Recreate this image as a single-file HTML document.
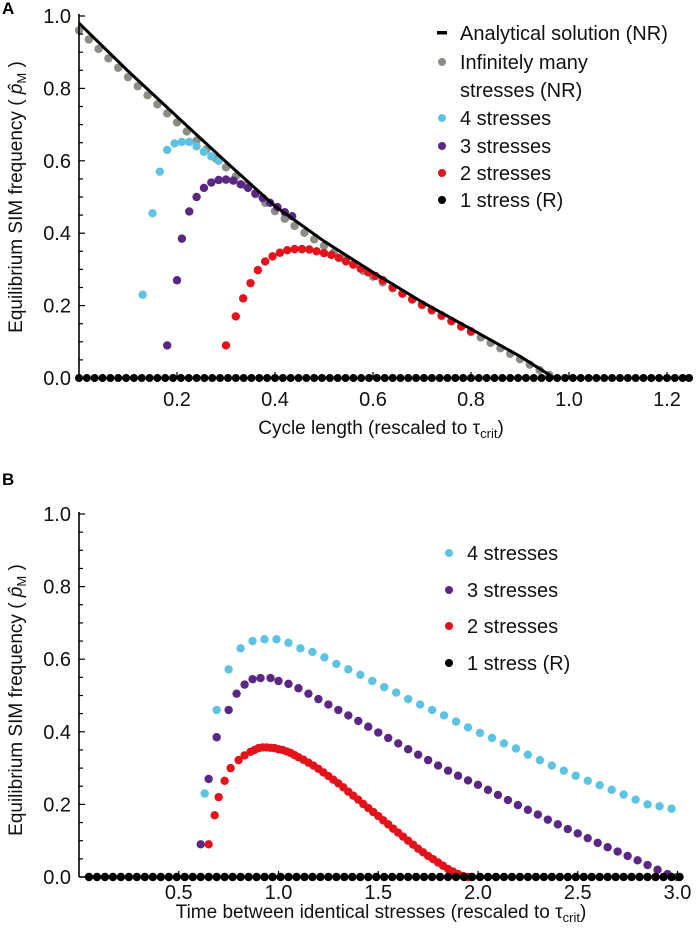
<!DOCTYPE html>
<html><head><meta charset="utf-8"><style>
html,body{margin:0;padding:0;background:#fff;}
svg{display:block;font-family:"Liberation Sans",sans-serif;}
</style></head><body>
<svg id="fig" width="700" height="931" viewBox="0 0 700 931">
<text x="2" y="14" font-size="17" font-weight="bold">A</text>
<text x="2" y="485" font-size="17" font-weight="bold">B</text>
<g id="gA"></g>
<g id="gB"></g>
</svg>
<script>
// ---------- Panel A data ----------
const aLineX = [0,0.1,0.2,0.3,0.4,0.5,0.6,0.7,0.8,0.9,0.97];
const aLineY = [0.98,0.848,0.722,0.597,0.475,0.378,0.292,0.21,0.135,0.06,0];
const aGreyX = [0,0.02,0.04,0.06,0.08,0.10,0.12,0.14,0.16,0.18,0.20,0.22,0.24,0.26,0.28,0.30,0.32,0.34,0.36,0.38,0.40,0.42,0.44,0.46,0.48,0.50,0.52,0.54,0.56,0.58,0.60,0.62,0.64,0.66,0.68,0.70,0.72,0.74,0.76,0.78,0.80,0.82,0.84,0.86,0.88,0.90,0.92,0.94,0.96];
const aGreyY = [0.96,0.935,0.909,0.883,0.857,0.831,0.806,0.781,0.756,0.731,0.706,0.681,0.656,0.631,0.606,0.582,0.557,0.532,0.508,0.484,0.461,0.44,0.42,0.401,0.383,0.365,0.347,0.33,0.313,0.296,0.28,0.264,0.248,0.232,0.216,0.201,0.186,0.171,0.156,0.141,0.127,0.112,0.097,0.082,0.067,0.052,0.037,0.022,0.008];
const a4X = [0.13,0.15,0.165,0.18,0.195,0.21,0.225,0.24,0.255,0.27,0.285];
const a4Y = [0.23,0.455,0.57,0.63,0.648,0.652,0.652,0.64,0.625,0.612,0.6];
const a3X = [0.18,0.2,0.21,0.225,0.24,0.255,0.27,0.285,0.3,0.315,0.33,0.345,0.36,0.375,0.39,0.405,0.42,0.435];
const a3Y = [0.09,0.27,0.385,0.46,0.5,0.525,0.54,0.547,0.548,0.545,0.535,0.525,0.51,0.497,0.484,0.472,0.458,0.447];
const a2X = [0.3,0.32,0.335,0.35,0.365,0.38,0.395,0.41,0.425,0.44,0.455,0.47,0.485,0.5,0.515,0.53,0.545,0.56,0.575,0.59,0.605,0.62,0.64,0.66,0.68,0.70,0.72,0.74,0.76,0.78,0.80];
const a2Y = [0.09,0.17,0.22,0.262,0.298,0.322,0.336,0.346,0.353,0.356,0.356,0.355,0.35,0.345,0.34,0.332,0.322,0.313,0.302,0.292,0.282,0.27,0.25,0.234,0.218,0.203,0.188,0.173,0.158,0.143,0.129];
const a1X = [0,0.016,0.032,0.048,0.064,0.08,0.096,0.112,0.128,0.144,0.16,0.176,0.192,0.208,0.224,0.24,0.256,0.272,0.288,0.304,0.32,0.336,0.352,0.368,0.384,0.4,0.416,0.432,0.448,0.464,0.48,0.496,0.512,0.528,0.544,0.56,0.576,0.592,0.608,0.624,0.64,0.656,0.672,0.688,0.704,0.72,0.736,0.752,0.768,0.784,0.8,0.816,0.832,0.848,0.864,0.88,0.896,0.912,0.928,0.944,0.96,0.976,0.992,1.008,1.024,1.04,1.056,1.072,1.088,1.104,1.12,1.136,1.152,1.168,1.184,1.2,1.216,1.232,1.245];
const a1Y = [0,0,0,0,0,0,0,0,0,0,0,0,0,0,0,0,0,0,0,0,0,0,0,0,0,0,0,0,0,0,0,0,0,0,0,0,0,0,0,0,0,0,0,0,0,0,0,0,0,0,0,0,0,0,0,0,0,0,0,0,0,0,0,0,0,0,0,0,0,0,0,0,0,0,0,0,0,0,0];
const aXTicks = [0.2,0.4,0.6,0.8,1.0,1.2];
const aXTickLabels = ["0.2","0.4","0.6","0.8","1.0","1.2"];
const yTicks = [0,0.2,0.4,0.6,0.8,1.0];
const yTickLabels = ["0.0","0.2","0.4","0.6","0.8","1.0"];

// ---------- Panel B data ----------
const b4X = [0.63,0.69,0.75,0.81,0.87,0.93,0.99,1.05,1.11,1.17,1.23,1.29,1.35,1.41,1.47,1.53,1.59,1.65,1.71,1.77,1.83,1.89,1.95,2.01,2.07,2.13,2.19,2.25,2.31,2.37,2.43,2.49,2.55,2.61,2.67,2.73,2.79,2.85,2.91,2.97];
const b4Y = [0.23,0.46,0.572,0.63,0.65,0.655,0.655,0.645,0.63,0.62,0.605,0.587,0.572,0.557,0.54,0.523,0.508,0.49,0.475,0.46,0.445,0.428,0.412,0.397,0.383,0.368,0.354,0.337,0.322,0.307,0.293,0.279,0.265,0.253,0.24,0.227,0.213,0.2,0.195,0.188];
const b3X = [0.61,0.65,0.69,0.75,0.79,0.83,0.87,0.91,0.96,1.00,1.05,1.10,1.15,1.20,1.25,1.30,1.35,1.40,1.45,1.50,1.55,1.60,1.65,1.70,1.75,1.80,1.85,1.90,1.95,2.00,2.05,2.10,2.15,2.20,2.25,2.30,2.35,2.40,2.45,2.50,2.55,2.60,2.65,2.70,2.75,2.80,2.85,2.90,2.95,3.00];
const b3Y = [0.09,0.27,0.385,0.46,0.505,0.53,0.545,0.548,0.548,0.54,0.532,0.52,0.505,0.49,0.475,0.46,0.445,0.43,0.414,0.398,0.383,0.368,0.352,0.337,0.322,0.307,0.293,0.279,0.266,0.254,0.24,0.226,0.212,0.198,0.185,0.172,0.158,0.145,0.132,0.12,0.107,0.094,0.082,0.07,0.058,0.046,0.033,0.02,0.008,0];
const b2X = [0.65,0.68,0.70,0.73,0.76,0.80,0.83,0.86,0.88,0.90,0.92,0.94,0.96,0.98,1.00,1.02,1.04,1.06,1.08,1.10,1.125,1.15,1.175,1.2,1.225,1.25,1.275,1.3,1.325,1.35,1.375,1.4,1.425,1.45,1.475,1.5,1.525,1.55,1.575,1.6,1.625,1.65,1.675,1.7,1.725,1.75,1.775,1.8,1.825,1.85,1.875,1.9,1.925,1.95];
const b2Y = [0.09,0.17,0.22,0.265,0.3,0.322,0.335,0.345,0.35,0.355,0.357,0.357,0.356,0.355,0.352,0.35,0.346,0.342,0.336,0.33,0.323,0.315,0.307,0.298,0.288,0.278,0.268,0.258,0.247,0.235,0.224,0.213,0.201,0.19,0.179,0.168,0.156,0.145,0.133,0.122,0.111,0.1,0.089,0.078,0.068,0.058,0.049,0.04,0.031,0.022,0.015,0.008,0.003,0];
const b1X = [0.05,0.09,0.13,0.17,0.21,0.25,0.29,0.33,0.37,0.41,0.45,0.49,0.53,0.57,0.61,0.65,0.69,0.73,0.77,0.81,0.85,0.89,0.93,0.97,1.01,1.05,1.09,1.13,1.17,1.21,1.25,1.29,1.33,1.37,1.41,1.45,1.49,1.53,1.57,1.61,1.65,1.69,1.73,1.77,1.81,1.85,1.89,1.93,1.97,2.01,2.05,2.09,2.13,2.17,2.21,2.25,2.29,2.33,2.37,2.41,2.45,2.49,2.53,2.57,2.61,2.65,2.69,2.73,2.77,2.81,2.85,2.89,2.93,2.97,3.01];
const b1Y = [0,0,0,0,0,0,0,0,0,0,0,0,0,0,0,0,0,0,0,0,0,0,0,0,0,0,0,0,0,0,0,0,0,0,0,0,0,0,0,0,0,0,0,0,0,0,0,0,0,0,0,0,0,0,0,0,0,0,0,0,0,0,0,0,0,0,0,0,0,0,0,0,0,0,0];
const bXTicks = [0.5,1.0,1.5,2.0,2.5,3.0];
const bXTickLabels = ["0.5","1.0","1.5","2.0","2.5","3.0"];

const NS = "http://www.w3.org/2000/svg";
const C4 = "#5ec3e2", C3 = "#5a2785", C2 = "#e3131b", CG = "#8c8d84", C1 = "#000";

function mk(tag, attrs, parent) {
  const e = document.createElementNS(NS, tag);
  for (const k in attrs) e.setAttribute(k, attrs[k]);
  parent.appendChild(e);
  return e;
}

function panel(g, x0, y0, yTop, xScale, xMax, xTicks, xLabels, tickOff, series) {
  const sx = v => x0 + v * xScale;
  const sy = v => y0 - v * (y0 - yTop);
  series.forEach(s => {
    const sg = mk("g", {}, g);
    
    
    s.xs.forEach((xv, i) => {
      const c = mk("circle", {cx: sx(xv), cy: sy(s.ys[i]), r: s.r || 4.2, fill: s.color}, sg);
      
      
    });
  });
  const ax = mk("line", {x1: x0, y1: yTop - 2, x2: x0, y2: y0, stroke: "#000", "stroke-width": 1.6}, g);
  
  
  const axx = mk("line", {x1: x0, y1: y0, x2: sx(xMax), y2: y0, stroke: "#000", "stroke-width": 1.6}, g);
  
  
  for (let k = 0; k <= 20; k++) {
    const v = k * 0.05;
    const major = k % 4 === 0;
    const t = mk("line", {x1: x0, y1: sy(v), x2: x0 + (major ? 6 : 4), y2: sy(v), stroke: "#000", "stroke-width": 1.2}, g);
    
    
  }
  yTicks.forEach((v, i) => {
    const t = mk("text", {x: x0 - 8, y: sy(v) + 7, "font-size": 20, "text-anchor": "end", fill: "#111"}, g);
    t.textContent = yTickLabels[i];
    
    
  });
  xTicks.forEach((v, i) => {
    const tk = mk("line", {x1: sx(v), y1: y0, x2: sx(v), y2: y0 - 6, stroke: "#000", "stroke-width": 1.2}, g);
    
    
    const t = mk("text", {x: sx(v), y: y0 + tickOff, "font-size": 20, "text-anchor": "middle", fill: "#111"}, g);
    t.textContent = xLabels[i];
    
    
  });
  return {sx, sy};
}

function yTitle(g, cx, cy) {
  const t = mk("text", {x: 0, y: 0, "font-size": 19, "text-anchor": "middle", fill: "#111", transform: `translate(${cx},${cy}) rotate(-90)`}, g);
  
  
  t.innerHTML = 'Equilibrium SIM frequency ( <tspan font-style="italic">p̂</tspan><tspan font-size="13" dy="4">M</tspan><tspan dy="-4"> )</tspan>';
}

function xTitle(g, cx, y, main) {
  const t = mk("text", {x: cx, y: y, "font-size": 19, "text-anchor": "middle", fill: "#111"}, g);
  
  
  t.innerHTML = main + ' (rescaled to τ<tspan font-size="13" dy="4">crit</tspan><tspan dy="-4">)</tspan>';
}

function legend(g, x, entries) {
  entries.forEach(e => {
    const lg = mk("g", {}, g);
    
    
    if (e.dash) mk("rect", {x: x - 5, y: e.y - 2, width: 10, height: 3.5, fill: "#000"}, lg);
    else mk("circle", {cx: x, cy: e.y, r: 4, fill: e.color}, lg);
    e.lines.forEach((l, j) => {
      const t = mk("text", {x: x + 18, y: e.y + 7 + j * 28, "font-size": 20, fill: "#111"}, lg);
      t.textContent = l;
    });
  });
}

// Panel A
const gA = document.getElementById("gA");
const A = panel(gA, 79, 378, 16, 490, 1.245, aXTicks, aXTickLabels, 28, [
  {name: "series-infinite-stresses", xs: aGreyX, ys: aGreyY, color: CG},
  {name: "series-4-stresses", xs: a4X, ys: a4Y, color: C4},
  {name: "series-3-stresses", xs: a3X, ys: a3Y, color: C3},
  {name: "series-2-stresses", xs: a2X, ys: a2Y, color: C2}
]);
{
  let d = "";
  aLineX.forEach((xv, i) => { d += (i ? " L" : "M") + A.sx(xv).toFixed(1) + " " + A.sy(aLineY[i]).toFixed(1); });
  const p = mk("path", {d: d, fill: "none", stroke: "#000", "stroke-width": 3, "stroke-linejoin": "round"}, gA);
  
  
  const zg = mk("g", {}, gA);
  
  
  a1X.forEach((xv, i) => {
    const c = mk("circle", {cx: A.sx(xv), cy: A.sy(a1Y[i]), r: 4, fill: C1}, zg);
    
    
  });
}
yTitle(gA, 22, 197);
xTitle(gA, 381, 434, "Cycle length");
legend(gA, 442, [
  {dash: true, y: 33, lines: ["Analytical solution (NR)"]},
  {color: CG, y: 62, lines: ["Infinitely many", "stresses (NR)"]},
  {color: C4, y: 118, lines: ["4 stresses"]},
  {color: C3, y: 146, lines: ["3 stresses"]},
  {color: C2, y: 173, lines: ["2 stresses"]},
  {color: C1, y: 200, lines: ["1 stress (R)"]}
]);

// Panel B
const gB = document.getElementById("gB");
const B = panel(gB, 79, 877, 514, 199.5, 3.03, bXTicks, bXTickLabels, 22, [
  {name: "series-4-stresses", xs: b4X, ys: b4Y, color: C4},
  {name: "series-3-stresses", xs: b3X, ys: b3Y, color: C3},
  {name: "series-2-stresses", xs: b2X, ys: b2Y, color: C2},
  {name: "series-1-stress", xs: b1X, ys: b1Y, color: C1}
]);
yTitle(gB, 22, 700);
xTitle(gB, 381, 918, "Time between identical stresses");
legend(gB, 449, [
  {color: C4, y: 553, lines: ["4 stresses"]},
  {color: C3, y: 590, lines: ["3 stresses"]},
  {color: C2, y: 626, lines: ["2 stresses"]},
  {color: C1, y: 663, lines: ["1 stress (R)"]}
]);
</script>
</body></html>
